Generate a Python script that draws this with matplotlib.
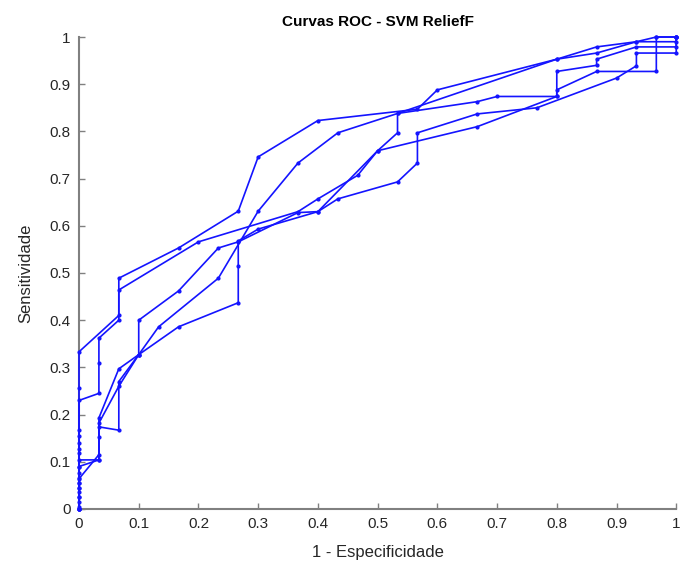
import matplotlib
matplotlib.use("Agg")
import matplotlib.pyplot as plt

plt.rcParams['font.family'] = ['Liberation Sans', 'DejaVu Sans']

title = "Curvas ROC - SVM ReliefF"
xlabel = "1 - Especificidade"
ylabel = "Sensitividade"
ticks = [0, 0.1, 0.2, 0.3, 0.4, 0.5, 0.6, 0.7, 0.8, 0.9, 1]
tick_labels = ["0", "0.1", "0.2", "0.3", "0.4", "0.5", "0.6", "0.7", "0.8", "0.9", "1"]

# five ROC folds (false positive rate in 1/30 steps, true positive rate)
fpr_a = [0, 0, 0, 0, 0, 0, 0, 0, 0, 2/30, 2/30, 5/30, 8/30, 9/30, 12/30, 17/30, 18/30, 24/30, 26/30, 28/30, 29/30, 1]
tpr_a = [0, 0.026, 0.055, 0.090, 0.128, 0.140, 0.155, 0.257, 0.333, 0.41, 0.489, 0.553, 0.631, 0.746, 0.823, 0.847, 0.888, 0.953, 0.979, 0.99, 1.0, 1.0]

fpr_b = [0, 0, 0, 0, 0, 0, 0, 1/30, 1/30, 1/30, 2/30, 2/30, 6/30, 11/30, 12/30, 14/30, 15/30, 16/30, 16/30, 24/30, 26/30, 28/30, 1, 1]
tpr_b = [0, 0.015, 0.044, 0.076, 0.118, 0.167, 0.23, 0.245, 0.309, 0.362, 0.40, 0.464, 0.566, 0.63, 0.657, 0.707, 0.759, 0.797, 0.838, 0.953, 0.966, 0.99, 0.99, 1.0]

fpr_c = [0, 0, 0, 0, 1/30, 1/30, 2/30, 3/30, 5/30, 8/30, 8/30, 8/30, 9/30, 12/30, 13/30, 16/30, 17/30, 17/30, 20/30, 23/30, 27/30, 28/30, 28/30, 1, 1]
tpr_c = [0, 0.035, 0.066, 0.104, 0.104, 0.193, 0.297, 0.327, 0.386, 0.437, 0.515, 0.568, 0.593, 0.63, 0.657, 0.693, 0.733, 0.797, 0.837, 0.85, 0.913, 0.939, 0.966, 0.966, 1.0]

fpr_d = [0, 0, 0, 0, 1/30, 1/30, 1/30, 2/30, 3/30, 3/30, 5/30, 7/30, 8/30, 11/30, 12/30, 15/30, 20/30, 24/30, 24/30, 26/30, 29/30, 29/30, 1]
tpr_d = [0, 0.026, 0.044, 0.064, 0.115, 0.153, 0.182, 0.26, 0.327, 0.40, 0.462, 0.553, 0.566, 0.628, 0.63, 0.759, 0.81, 0.874, 0.888, 0.927, 0.927, 1.0, 1.0]

fpr_e = [0, 0, 0, 0, 1/30, 1/30, 2/30, 2/30, 3/30, 4/30, 7/30, 9/30, 11/30, 13/30, 16/30, 20/30, 21/30, 24/30, 24/30, 26/30, 26/30, 28/30, 1, 1]
tpr_e = [0, 0.005, 0.055, 0.09, 0.104, 0.174, 0.167, 0.27, 0.327, 0.386, 0.489, 0.631, 0.733, 0.797, 0.838, 0.863, 0.874, 0.874, 0.927, 0.94, 0.953, 0.979, 0.979, 1.0]

curves = [(fpr_a, tpr_a), (fpr_b, tpr_b), (fpr_c, tpr_c), (fpr_d, tpr_d), (fpr_e, tpr_e)]

fig = plt.figure(figsize=(6.81, 5.71), dpi=100)
ax = fig.add_axes([0.116, 0.1086, 0.877, 0.8266])

for fx, ty in curves:
    ax.plot(fx, ty, color='#1414ff', linewidth=1.2, marker='.', markersize=4,
            clip_on=False, zorder=3)

ax.set_xlim(0, 1)
ax.set_ylim(0, 1)
ax.set_xticks(ticks)
ax.set_xticklabels(tick_labels)
ax.set_yticks(ticks)
ax.set_yticklabels(tick_labels)
for s in ['top', 'right']:
    ax.spines[s].set_visible(False)
for s in ['left', 'bottom']:
    ax.spines[s].set_color('#808080')
    ax.spines[s].set_linewidth(1.5)
ax.tick_params(direction='in', length=4, width=1, color='#808080',
               labelsize=11, labelcolor='#262626', pad=6)

ax.set_title(title, fontsize=11, fontweight='bold', pad=8)
ax.set_xlabel(xlabel, fontsize=12, color='#262626', labelpad=10)
ax.set_ylabel(ylabel, fontsize=12, color='#262626', labelpad=12)

fig.savefig("out.png", dpi=100)
